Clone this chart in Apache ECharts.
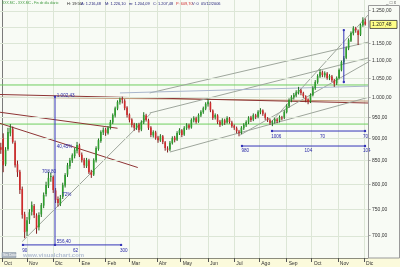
<!DOCTYPE html>
<html><head><meta charset="utf-8">
<script src="https://cdn.jsdelivr.net/npm/echarts@6/dist/echarts.min.js"></script>
<style>html,body{margin:0;padding:0;background:#f8fbf5}#c{width:400px;height:267px}</style>
</head><body><div id="c"></div>
<script>
// month starts (trading-day index from 3 Oct 2005) and their labels
const monthIdx = [0,21,43,65,87,107,130,150,173,195,216,239,260,282,304];
const monthNames = ['Oct','Nov','Dic','Ene','Feb','Mar','Abr','May','Jun','Jul','Ago','Sep','Oct','Nov','Dic'];
// price axis ticks (log scale)
const priceTicks = [1250,1200,1150,1100,1050,1000,950,900,850,800,750,700];
const priceTickLabels = ['1.250,00','','1.150,00','1.100,00','1.050,00','1.000,00','950,00','900,00','850,00','800,00','750,00','700,00'];

// two-day candles
const opens = [880,900,842,876,912,922,890,842,826,790,
740,708,730,745,756,738,716,740,757,780,
797,815,815,787,770,760,774,797,820,838,
850,860,872,884,863,852,838,850,826,820,
850,876,894,914,921,912,926,938,955,972,
988,997,992,975,957,945,933,924,933,921,
938,955,943,926,907,914,902,895,905,891,
877,875,889,902,897,912,919,909,924,931,
926,943,948,940,955,963,972,983,987,967,
950,955,940,933,943,938,948,938,930,924,
916,914,924,931,938,950,945,955,952,963,
967,958,948,943,936,940,945,942,950,950,
963,978,993,1000,1006,1013,1019,1011,1003,995,
990,1006,1024,1040,1056,1067,1059,1064,1053,1056,
1045,1037,1051,1073,1095,1108,1135,1158,1180,1195,
1188,1176,1205,1216.48];
const closes = [874,840,874,915,925,892,840,825,788,739,
707,729,744,758,739,714,739,758,778,798,
813,817,788,768,762,772,798,819,840,851,
862,874,885,862,851,840,851,825,819,851,
878,896,915,920,913,925,939,956,973,989,
996,994,973,956,944,932,925,932,920,939,
956,944,925,908,915,901,896,906,892,878,
874,890,901,896,913,920,908,925,932,925,
944,949,939,956,964,973,984,989,968,949,
956,939,932,944,937,949,939,929,925,917,
913,925,932,939,949,944,956,951,964,968,
959,949,944,937,939,946,941,951,949,964,
979,994,1001,1007,1014,1020,1012,1004,994,989,
1007,1025,1041,1057,1068,1060,1065,1052,1057,1046,
1036,1052,1074,1096,1107,1136,1160,1181,1196,1190,
1175,1206,1221,1207.48];
const lows = [865,825,838,872,905,888,835,815,780,732,
696,700,722,738,733,704,710,735,752,775,
792,805,782,762,755,756,770,793,815,832,
845,855,866,858,846,834,834,821,813,817,
846,872,890,908,906,909,921,934,950,968,
982,985,968,950,938,926,918,920,914,917,
934,940,920,903,902,897,890,892,887,872,
868,871,886,891,894,908,903,906,920,921,
923,938,935,937,951,959,968,977,963,944,
945,934,927,930,932,935,935,925,920,912,
905,910,920,927,934,939,941,946,948,958,
954,944,939,932,929,935,936,938,943,946,
960,974,988,995,1001,1008,1006,999,988,983,
986,1003,1020,1036,1052,1054,1053,1047,1046,1041,
1028,1033,1048,1070,1090,1104,1130,1154,1174,1182,
1145,1172,1200,1204.09];
const highs = [890,912,880,925,934,928,895,850,830,795,
745,735,750,765,760,742,744,762,783,805,
826,824,818,792,775,778,803,823,845,856,
866,878,892,888,868,856,856,854,830,855,
882,900,919,926,925,929,944,960,977,993,
1000,1002.43,996,978,960,948,937,936,937,943,
963,959,947,929,919,918,906,910,908,894,
882,894,905,906,917,924,922,929,936,935,
948,953,952,960,968,977,988,996,990,970,
960,958,944,948,947,953,951,942,933,928,
920,929,936,943,953,954,960,959,968,973,
970,962,951,947,943,950,949,955,954,968,
983,998,1006,1012,1019,1028,1023,1015,1006,998,
1011,1030,1046,1062,1076,1072,1070,1068,1062,1060,
1049,1056,1078,1100,1113,1141,1165,1186,1202,1200,
1192,1210,1230,1226.10];
const lastClose = 1207.48;

// drawn trend lines: [day1, price1, day2, price2]
const greenLevels = [[-2,1033,308,1033],[-2,934,308,934]];
const grayTrends = [[17,690,125,960],[124,961,308,1108],[124,1012,308,1154],[141,869,308,1001],[200,908,308,1097],[225,936,308,1240]];
const blueGrayTrends = [[99,1012,308,1030]];
const brownTrends = [[-2,1008,308,986],[-2,963,97,924],[-2,936,114,835]];
const tanTrends = [[-2,1001,308,991]];
const measureLines = [[44.5,1002.43,44.5,684],[17.6,684,100,684],[287,1190,287,1041],[226.7,917.4,304.8,917.4],[201.5,882.6,304.8,882.6]];
const measureLabels = [[46,1006,'1.002,43'],[46,881,'40,45%'],[33.6,825,'708,80'],[50.5,778,'72%'],[46,690,'556,40'],[17,673,'90'],[59.6,673,'62'],[99,673,'300'],[226,905,'1006'],[267,905,'70'],[303,905,'70'],[201,871,'980'],[254,871,'104'],[303,871,'104']];

const candleData = opens.map((o, i) => [2 * i - 1, o, closes[i], lows[i], highs[i]]);

function renderCandle(params, api) {
  const x = api.value(0), o = api.value(1), c = api.value(2), l = api.value(3), h = api.value(4);
  const pO = api.coord([x, o]), pC = api.coord([x, c]), pL = api.coord([x, l]), pH = api.coord([x, h]);
  const half = (api.coord([x + 1, o])[0] - api.coord([x - 1, o])[0]) * 0.34;
  const up = c >= o;
  const top = Math.min(pO[1], pC[1]);
  const bh = Math.max(1, Math.abs(pO[1] - pC[1]));
  return {type: 'group', children: [
    {type: 'line', shape: {x1: pH[0], y1: pH[1], x2: pL[0], y2: pL[1]}, style: {stroke: up ? '#1d6b1d' : '#7d1d1d', lineWidth: 1}},
    {type: 'rect', shape: {x: pO[0] - half, y: top, width: half * 2, height: bh}, style: {fill: up ? '#2e9e2e' : '#cf2b2b'}}
  ]};
}
function renderSeg(params, api) {
  const p1 = api.coord([api.value(0), api.value(1)]);
  const p2 = api.coord([api.value(2), api.value(3)]);
  return {type: 'line', shape: {x1: p1[0], y1: p1[1], x2: p2[0], y2: p2[1]}, style: {stroke: api.visual('color'), lineWidth: 1}};
}
function renderMeasure(params, api) {
  const p1 = api.coord([api.value(0), api.value(1)]);
  const p2 = api.coord([api.value(2), api.value(3)]);
  const col = '#3434b8';
  return {type: 'group', children: [
    {type: 'line', shape: {x1: p1[0], y1: p1[1], x2: p2[0], y2: p2[1]}, style: {stroke: col, lineWidth: 1}},
    {type: 'circle', shape: {cx: p1[0], cy: p1[1], r: 1.2}, style: {fill: col}},
    {type: 'circle', shape: {cx: p2[0], cy: p2[1], r: 1.2}, style: {fill: col}}
  ]};
}
function renderLabel(params, api) {
  const p = api.coord([api.value(0), api.value(1)]);
  return {type: 'text', x: p[0], y: p[1], style: {text: measureLabels[params.dataIndex][2], fill: '#2a2aa8', fontSize: 4.6, fontFamily: 'Liberation Sans', align: 'left', verticalAlign: 'middle', textAlign: 'left', textVerticalAlign: 'middle'}};
}
function segSeries(data, color, z) {
  return {type: 'custom', renderItem: renderSeg, data: data, itemStyle: {color: color}, encode: {x: [0, 2], y: [1, 3]}, clip: true, silent: true, z: z};
}

const chart = echarts.init(document.getElementById('c'), null, {renderer: 'canvas'});
chart.setOption({
  animation: false,
  backgroundColor: '#f8fbf5',
  grid: {left: 0, right: 32, top: 0, bottom: 9},
  xAxis: {
    type: 'value', min: -1.68, max: 307.3,
    axisLine: {show: true, lineStyle: {color: '#8c8c7c'}},
    axisTick: {show: true, customValues: monthIdx, length: 4, lineStyle: {color: '#555'}},
    axisLabel: {show: true, customValues: monthIdx, margin: 1, fontSize: 5, color: '#333', fontFamily: 'Liberation Sans', align: 'left', padding: [2, 0, 0, 2],
      formatter: v => monthNames[monthIdx.indexOf(v)] || ''},
    splitLine: {show: true, lineStyle: {color: '#dce6d6', width: 1}}
  },
  yAxis: {
    type: 'log', logBase: 10, min: 661.3, max: 1286, position: 'right',
    axisLine: {show: true, lineStyle: {color: '#7a7a7a'}},
    axisTick: {show: false}, axisLabel: {show: false}, splitLine: {show: false}
  },
  series: [
    {type: 'line', data: [[100, 1000]], symbol: 'none', lineStyle: {opacity: 0}, silent: true, z: 1,
      markLine: {silent: true, symbol: ['none', 'none'], animation: false,
        lineStyle: {color: '#dce6d6', width: 1, type: 'solid'},
        label: {position: 'end', distance: 1, fontSize: 5, color: '#333', fontFamily: 'Liberation Sans'},
        data: priceTicks.map((v, i) => ({yAxis: v, label: {formatter: priceTickLabels[i] ? '- ' + priceTickLabels[i] : ''}}))}},
    segSeries(greenLevels, '#6fcf5f', 3),
    segSeries(tanTrends, '#c09a78', 3),
    segSeries(brownTrends, '#8e3434', 3),
    segSeries(grayTrends, '#9ea69c', 3),
    segSeries(blueGrayTrends, '#a9b6cc', 3),
    {type: 'custom', renderItem: renderCandle, data: candleData, encode: {x: 0, y: [1, 2, 3, 4]}, clip: true, z: 5},
    {type: 'custom', renderItem: renderMeasure, data: measureLines, encode: {x: [0, 2], y: [1, 3]}, clip: true, silent: true, z: 6},
    {type: 'custom', renderItem: renderLabel, data: measureLabels.map(d => [d[0], d[1]]), encode: {x: 0, y: 1}, clip: false, silent: true, z: 7}
  ]
});

const tagY = chart.convertToPixel({yAxisIndex: 0}, lastClose);
const f = 'Liberation Sans';
const hs = 3.9;
chart.setOption({graphic: [
  {type: 'rect', z: -10, silent: true, shape: {x: 0, y: 258, width: 400, height: 9}, style: {fill: '#fbfadb'}},
  {type: 'rect', z: 50, silent: true, shape: {x: 368.5, y: 5.5, width: 31, height: 252.5}, style: {fill: 'none', stroke: '#9a9a9a', lineWidth: 1}},
  {type: 'text', z: 50, x: 386, y: 0, style: {text: '_ □ x', fontSize: 4.5, fill: '#555', fontFamily: f}},
  {type: 'rect', z: 60, shape: {x: 370, y: tagY - 4, width: 27, height: 8}, style: {fill: '#ffff88', stroke: '#333', lineWidth: 0.8}},
  {type: 'text', z: 61, x: 372, y: tagY, style: {text: '1.207,48', fontSize: 5, fill: '#222', fontFamily: f, verticalAlign: 'middle', textVerticalAlign: 'middle'}},
  {type: 'text', z: 50, x: 2, y: 2, style: {text: 'XXX.MC - XXX.MC - Fin de día diario', fontSize: 3.4, fill: '#3f9a3f', fontFamily: f}},
  {type: 'text', z: 50, x: 67, y: 2, style: {text: 'H: 19:56', fontSize: hs, fill: '#222', fontFamily: f}},
  {type: 'text', z: 50, x: 81, y: 2, style: {text: 'A: 1.216,48', fontSize: hs, fill: '#22227a', fontFamily: f}},
  {type: 'text', z: 50, x: 105, y: 2, style: {text: 'M: 1.226,10', fontSize: hs, fill: '#22227a', fontFamily: f}},
  {type: 'text', z: 50, x: 129, y: 2, style: {text: 'm: 1.204,09', fontSize: hs, fill: '#22227a', fontFamily: f}},
  {type: 'text', z: 50, x: 153, y: 2, style: {text: 'C: 1.207,48', fontSize: hs, fill: '#22227a', fontFamily: f}},
  {type: 'text', z: 50, x: 176, y: 2, style: {text: 'P: 609,70', fontSize: hs, fill: '#d03030', fontFamily: f}},
  {type: 'text', z: 50, x: 192, y: 2, style: {text: 'V: 0', fontSize: hs, fill: '#22227a', fontFamily: f}},
  {type: 'text', z: 50, x: 201, y: 2, style: {text: '05/12/2006', fontSize: hs, fill: '#22227a', fontFamily: f}},
  {type: 'rect', z: 50, shape: {x: 2, y: 252.5, width: 14, height: 5}, style: {fill: '#aab4bf', stroke: '#8090a0', lineWidth: 0.5}},
  {type: 'text', z: 51, x: 3, y: 255, style: {text: 'Sin Datos', fontSize: 3.5, fill: '#fff', fontFamily: f, verticalAlign: 'middle', textVerticalAlign: 'middle'}},
  {type: 'text', z: 50, x: 23, y: 255, style: {text: 'www.visualchart.com', fontSize: 6, fill: '#b3bfd3', fontFamily: f, fontWeight: 'bold', verticalAlign: 'middle', textVerticalAlign: 'middle'}}
]});
</script>
</body></html>
